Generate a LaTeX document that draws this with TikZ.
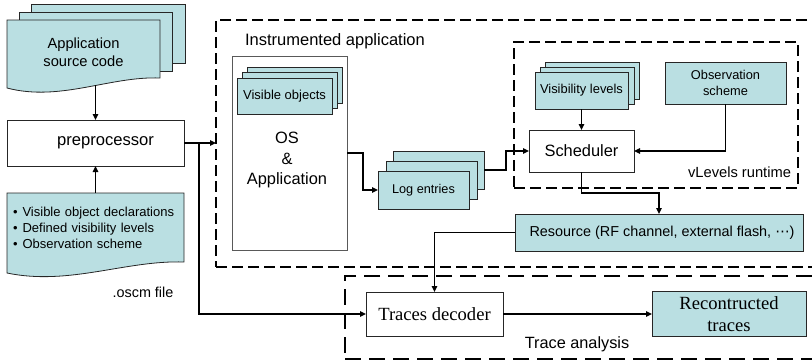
\documentclass[tikz,border=0pt]{standalone}
\usepackage{fontspec}
\setmainfont{Liberation Sans}
\newfontfamily\serifface{Liberation Serif}
\newfontfamily\symface{DejaVu Sans}
\usetikzlibrary{arrows.meta,calc}
\definecolor{paletea}{RGB}{186,223,226}
\newcommand\fsz[2]{\fontsize{#1pt}{#2pt}\selectfont}

\tikzset{
  box/.style={draw=black!85, line width=0.8pt, fill=white, inner sep=0pt, outer sep=0pt, align=center},
  tealbox/.style={box, fill=paletea},
  sheet/.style={draw=black!85, line width=0.8pt, fill=paletea},
  plain/.style={inner sep=0pt, outer sep=0pt, align=center},
  region/.style={draw=black, line width=2.4pt, dash pattern=on 11pt off 5pt, inner sep=0pt, outer sep=0pt},
  wire/.style={line width=1.6pt, line join=miter},
  conn/.style={wire, -{Triangle[length=6pt,width=5.5pt]}},
}

\begin{document}
\begin{tikzpicture}[x=1pt,y=-1pt]
\useasboundingbox (0,0) rectangle (812,362);
\clip (0,0) rectangle (812,362);

% ---- dashed regions (open towards the right edge)
\node[region, anchor=north west, minimum width=700pt, minimum height=247pt] (instr) at (216,20) {};
\node[plain, font=\fsz{16.5}{20}] (instrlabel) at (335,41) {Instrumented application};
\node[region, line width=2pt, dash pattern=on 16pt off 8pt, anchor=north west, minimum width=600pt, minimum height=83pt] (trace) at (345,276) {};
\node[plain, font=\fsz{16.3}{20}] (tracelabel) at (577,344) {Trace analysis};

% ---- application source code (stack of documents)
\filldraw[sheet] (31,4) rectangle (185,63);
\filldraw[sheet] (19,12) rectangle (172,71);
\filldraw[sheet] (7,20) -- (160,20) -- (160,78) .. controls (110,76) and (60,102) .. (7,88) -- cycle;
\node[plain, minimum width=153pt, minimum height=65pt, font=\fsz{14.7}{18}] (src) at (83.5,52.5) {Application\\source code};

% ---- preprocessor
\node[box, minimum width=177pt, minimum height=46pt, font=\fsz{16.6}{20}] (pre) at (95.5,143) {\hspace*{20pt}preprocessor};

% ---- .oscm document
\filldraw[sheet] (7,193) -- (184,193) -- (184,262) .. controls (126,260) and (69,286) .. (7,273) -- cycle;
\node[plain, align=left, text width=165pt, minimum height=69pt, font=\fsz{13}{16}] (oscm) at (95.5,227.5)
  {•\hspace{5pt}Visible object declarations\\
   •\hspace{5pt}Defined visibility levels\\
   •\hspace{5pt}Observation scheme};
\node[plain, font=\fsz{14.4}{18}] (oscmlabel) at (143,292) {.oscm file};

% ---- OS & Application
\node[box, draw=black!65, minimum width=115pt, minimum height=194pt] (os) at (289.5,153) {};
\node[plain, font=\fsz{16.4}{20.5}] (ostext) at (287,160) {OS\\\&\\Application};
\filldraw[sheet] (247,67) rectangle (342,103);
\filldraw[sheet] (242,72) rectangle (337,108);
\node[tealbox, minimum width=95pt, minimum height=36pt, font=\fsz{13}{16}] (vis) at (284.5,96) {Visible objects};

% ---- log entries
\filldraw[sheet] (393,151) rectangle (484,189);
\filldraw[sheet] (386,161) rectangle (477,199);
\node[tealbox, minimum width=91pt, minimum height=38pt, font=\fsz{12.7}{16}] (log) at (423.5,190) {Log entries};
\coordinate (logback) at ($(log.east)+(15,-20)$);

% ---- vLevels runtime
\node[region, minimum width=284pt, minimum height=146pt] (vlev) at (656,115) {};
\node[plain, anchor=east, font=\fsz{14.7}{18}] (vlevlabel) at (791,172) {vLevels runtime};
\filldraw[sheet] (545,62) rectangle (639,99);
\filldraw[sheet] (540,67) rectangle (634,104);
\node[tealbox, minimum width=93pt, minimum height=37pt, font=\fsz{12.9}{16}] (vislev) at (581.5,90.5) {Visibility levels};
\node[tealbox, minimum width=121pt, minimum height=42pt, font=\fsz{12.8}{16}] (obs) at (725.5,83) {Observation\\scheme};
\node[box, minimum width=105pt, minimum height=42pt, font=\fsz{16.4}{20}] (sched) at (581.5,151) {Scheduler};

% ---- resource
\node[tealbox, minimum width=288pt, minimum height=37pt, font=\fsz{14.4}{18}] (res) at (659,232.5)
  {\hspace*{6pt}Resource (RF channel, external flash, {\symface ⋯})};

% ---- trace analysis
\node[box, minimum width=137pt, minimum height=44pt, font={\serifface\fsz{18.6}{22}}] (dec) at (434.5,314) {Traces decoder};
\node[tealbox, minimum width=154pt, minimum height=45pt, font={\serifface\fsz{18.6}{22}}] (rec) at (729,314) {Recontructed\\traces};

% ---- connectors
\draw[conn] (src.south -| pre.north) -- (pre.north);
\draw[conn] (oscm.north) -- (pre.south);
\draw[conn] (pre.east) -- (pre.east -| instr.west);
\draw[conn] ($(pre.east)+(15,0)$) |- (dec.west);
\draw[conn] (os.east) -- ++(16,0) |- (log.west);
\draw[conn] (logback) -- ++(22,0) |- (sched.west);
\draw[conn] (vislev.south) -- (sched.north);
\draw[conn] (obs.south) |- (sched.east);
\draw[conn] (sched.south) -- ++(0,21) -| (res.north);
\draw[conn] (res.west) -| (dec.north);
\draw[conn] (dec.east) -- (rec.west);
\end{tikzpicture}
\end{document}
